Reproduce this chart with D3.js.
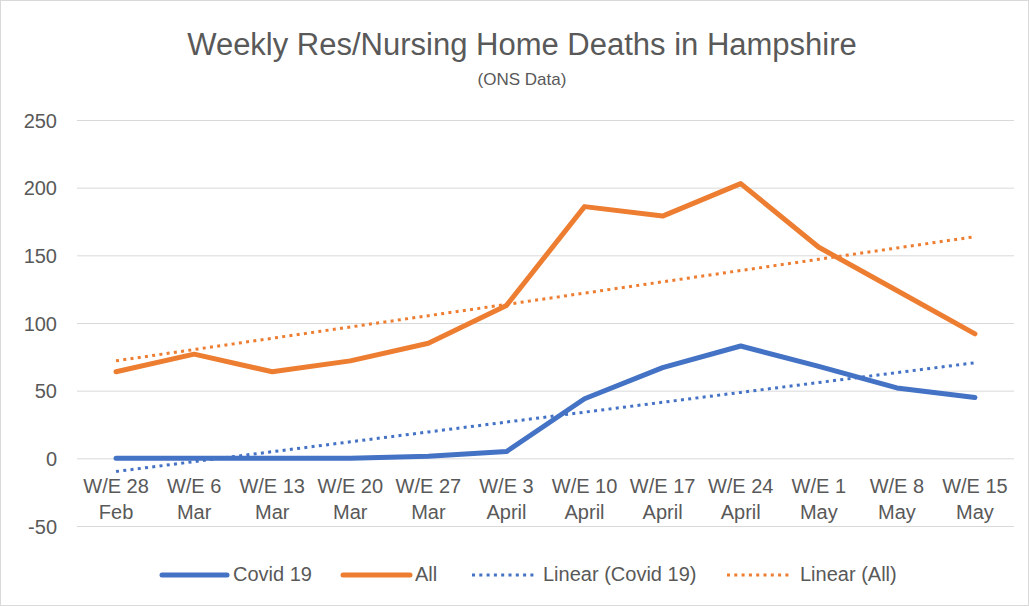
<!DOCTYPE html>
<html><head><meta charset="utf-8">
<script src="https://cdn.jsdelivr.net/npm/d3@7"></script>
<style>body{margin:0;background:#fff}svg{display:block}text{font-family:"Liberation Sans",Arial,sans-serif;fill:#595959}</style>
</head><body><svg id="c" width="1029" height="606"></svg>
<script>
const weekLabels = ["W/E 28","W/E 6","W/E 13","W/E 20","W/E 27","W/E 3","W/E 10","W/E 17","W/E 24","W/E 1","W/E 8","W/E 15"];
const monthLabels = ["Feb","Mar","Mar","Mar","Mar","April","April","April","April","May","May","May"];
const covid = [0,0,0,0,1.5,5,44,67,83,68,52,45];
const all = [64,77,64,72,85,113,186,179,203,156,124,92];
const yTicks = [-50,0,50,100,150,200,250];

const svg = d3.select("#c");
svg.append("rect").attr("x",0.5).attr("y",0.5).attr("width",1028).attr("height",605).attr("fill","#fff").attr("stroke","#d9d9d9");

const m = {l:77, r:1014, t:120, b:526};
const idx = d3.range(weekLabels.length);
const x = d3.scaleBand().domain(idx).range([m.l,m.r]);
const cx = i => x(i) + x.bandwidth()/2;
const y = d3.scaleLinear().domain([-50,250]).range([m.b,m.t]);

// gridlines
const yAxis = d3.axisLeft(y).tickValues(yTicks).tickSize(-(m.r-m.l)).tickFormat(d=>String(d));
const ga = svg.append("g").attr("transform",`translate(${m.l},0)`).call(yAxis);
ga.select(".domain").remove();
ga.selectAll(".tick line").attr("stroke","#d9d9d9").attr("stroke-width",1);
ga.selectAll(".tick text").attr("font-size",20).attr("font-family","Liberation Sans, Arial, sans-serif").attr("fill","#595959").attr("x",-20).attr("dy","0.35em");

// x labels
const xl = svg.append("g");
idx.forEach(i=>{
  const t = xl.append("text").attr("x",cx(i)).attr("text-anchor","middle").attr("font-size",20);
  t.append("tspan").attr("x",cx(i)).attr("y",493).text(weekLabels[i]);
  t.append("tspan").attr("x",cx(i)).attr("y",519).text(monthLabels[i]);
});

// trend lines (least squares of each series)
function trend(vals){
  const xs = vals.map((_,i)=>i+1);
  const mx = d3.mean(xs), my = d3.mean(vals);
  const sxy = d3.sum(xs.map((xx,i)=>(xx-mx)*(vals[i]-my)));
  const sxx = d3.sum(xs.map(xx=>(xx-mx)**2));
  const b = sxy/sxx, a = my - b*mx;
  return vals.map((_,i)=>a+b*(i+1));
}
const line = d3.line().x((d,i)=>cx(i)).y(d=>y(d));
svg.append("path").datum(trend(covid)).attr("d",line).attr("fill","none").attr("stroke","#4472C4").attr("stroke-width",3).attr("stroke-dasharray","3 4.3");
svg.append("path").datum(trend(all)).attr("d",line).attr("fill","none").attr("stroke","#ED7D31").attr("stroke-width",3).attr("stroke-dasharray","3 4.3");
svg.append("path").datum(covid).attr("d",line).attr("fill","none").attr("stroke","#4472C4").attr("stroke-width",5).attr("stroke-linejoin","round").attr("stroke-linecap","round");
svg.append("path").datum(all).attr("d",line).attr("fill","none").attr("stroke","#ED7D31").attr("stroke-width",5).attr("stroke-linejoin","round").attr("stroke-linecap","round");

// title
svg.append("text").attr("x",522).attr("y",55).attr("text-anchor","middle").attr("font-size",31).text("Weekly Res/Nursing Home Deaths in Hampshire");
svg.append("text").attr("x",522).attr("y",85).attr("text-anchor","middle").attr("font-size",17).text("(ONS Data)");

// legend
const leg = [
  {name:"Covid 19", c:"#4472C4", w:5, dash:null, x1:162, x2:227, tx:233},
  {name:"All", c:"#ED7D31", w:5, dash:null, x1:343, x2:410, tx:415},
  {name:"Linear (Covid 19)", c:"#4472C4", w:3, dash:"3 4.3", x1:472, x2:536, tx:543},
  {name:"Linear (All)", c:"#ED7D31", w:3, dash:"3 4.3", x1:727, x2:791, tx:800}
];
leg.forEach(l=>{
  svg.append("line").attr("x1",l.x1).attr("x2",l.x2).attr("y1",575).attr("y2",575).attr("stroke",l.c).attr("stroke-width",l.w).attr("stroke-linecap",l.dash?null:"round").attr("stroke-dasharray",l.dash);
  svg.append("text").attr("x",l.tx).attr("y",581).attr("font-size",20).text(l.name);
});
</script></body></html>
